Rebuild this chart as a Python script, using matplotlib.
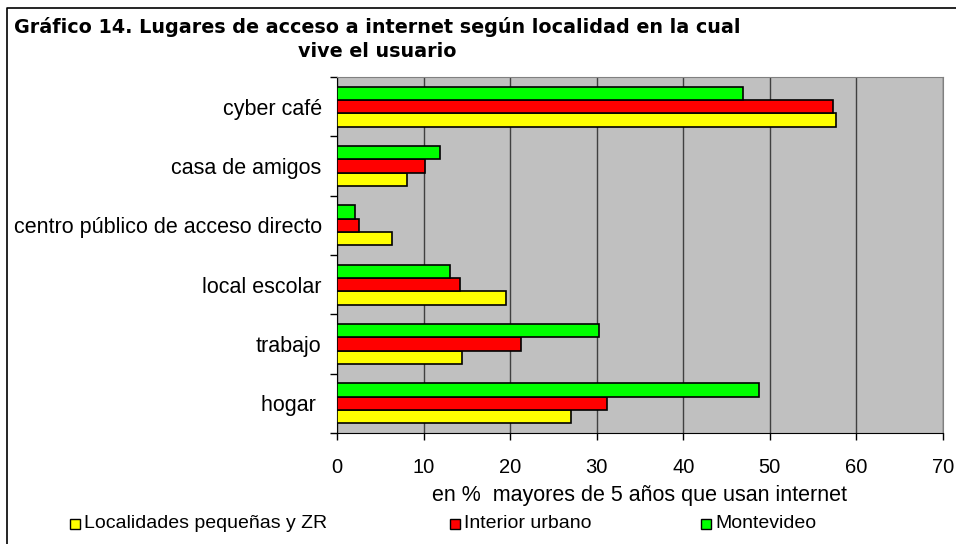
import numpy as np
import matplotlib
matplotlib.use("Agg")
import matplotlib.pyplot as plt
from matplotlib.patches import Rectangle
from matplotlib.lines import Line2D

plt.rcParams['font.family'] = ['Liberation Sans', 'DejaVu Sans']

# datos (de abajo hacia arriba)
categorias = ['hogar ', 'trabajo', 'local escolar', 'centro público de acceso directo',
              'casa de amigos', 'cyber café']
localidades_peq = [27.0, 14.4, 19.5, 6.3, 8.1, 57.6]
interior_urbano = [31.2, 21.2, 14.2, 2.5, 10.2, 57.3]
montevideo = [48.7, 30.3, 13.1, 2.1, 11.9, 46.9]

series = [('Localidades pequeñas y ZR', localidades_peq, '#FFFF00'),
          ('Interior urbano', interior_urbano, '#FF0000'),
          ('Montevideo', montevideo, '#00FF00')]

W, H = 956, 544
fig = plt.figure(figsize=(W / 100, H / 100), dpi=100)

# ejes
ax = fig.add_axes([337 / W, 1 - 433 / H, (943 - 337) / W, (433 - 77) / H])
ax.set_facecolor('#C0C0C0')

y = np.arange(len(categorias))
h = 0.225
for i, (nombre, vals, col) in enumerate(series):
    ax.barh(y + (i - 1) * h, vals, height=h, color=col, edgecolor='black',
            linewidth=1.2, zorder=3)

ax.set_xlim(0, 70)
ax.set_ylim(-0.5, len(categorias) - 0.5)
ax.set_xticks(np.arange(0, 71, 10))
ax.set_yticks(y)
ax.set_yticklabels(categorias)
ax.set_yticks(np.arange(-0.5, len(categorias), 1), minor=True)
ax.tick_params(axis='y', which='major', length=0, pad=11, labelsize=15.5)
ax.tick_params(axis='y', which='minor', length=5, width=1, direction='out')
ax.tick_params(axis='x', length=5, width=1, direction='out', pad=13, labelsize=14.5)
ax.grid(axis='x', color='#404040', linewidth=1, zorder=1)

ax.spines['left'].set_color('black')
ax.spines['bottom'].set_color('black')
ax.spines['top'].set_color('#808080')
ax.spines['right'].set_color('#808080')

# etiqueta eje x
fig.text((337 + 943) / 2 / W, 1 - 496 / H, 'en %  mayores de 5 años que usan internet',
         ha='center', va='center', fontsize=15.5)

# título
fig.text(377 / W, 1 - 39 / H, 'Gráfico 14. Lugares de acceso a internet según localidad en la cual\nvive el usuario',
         ha='center', va='center', fontsize=13.8, fontweight='bold', linespacing=1.3,
         family='DejaVu Sans')

# leyenda
ley_x = [70, 450, 701]
for (nombre, vals, col), lx in zip(series, ley_x):
    fig.patches.append(Rectangle((lx / W, 1 - 529 / H), 10 / W, 10 / H,
                                 transform=fig.transFigure, facecolor=col,
                                 edgecolor='black', linewidth=1))
    fig.text((lx + 14) / W, 1 - 523 / H, nombre, ha='left', va='center', fontsize=14)

# borde
fig.lines.append(Line2D([7 / W, 7 / W, 1], [0, 1 - 8 / H, 1 - 8 / H],
                        transform=fig.transFigure, color='black', linewidth=1.2))

fig.savefig('out.png', dpi=100)
